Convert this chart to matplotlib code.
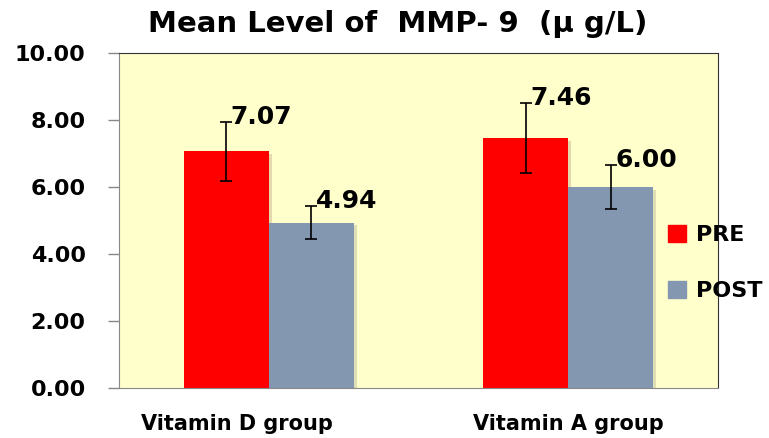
import numpy as np
import matplotlib
import matplotlib.pyplot as plt
import matplotlib.patheffects as pe
from matplotlib.patches import Patch
from matplotlib.transforms import ScaledTranslation

matplotlib.use('Agg')

groups = ['Vitamin D group', 'Vitamin A group']
series = ['PRE', 'POST']
pre = [7.07, 7.46]
post = [4.94, 6.00]
pre_err = [0.88, 1.05]
post_err = [0.50, 0.66]
colors = ['#FF0000', '#8497B0']

plt.rcParams['font.family'] = 'DejaVu Sans'
plt.rcParams['font.weight'] = 'bold'

fig = plt.figure(figsize=(7.69, 4.38), dpi=100)
ax = fig.add_axes([119 / 769, 1 - 388 / 438, 599 / 769, 335 / 438])
ax.set_facecolor('#FFFFCC')

x = np.arange(len(groups))
w = 0.284
shadow = [pe.SimplePatchShadow(offset=(2, -2), alpha=0.15), pe.Normal()]
for vals, errs, off, col in [(pre, pre_err, -w / 2, colors[0]), (post, post_err, w / 2, colors[1])]:
    ax.bar(x + off, vals, w, color=col, path_effects=shadow, zorder=2)
    ax.errorbar(x + off, vals, yerr=errs, fmt='none', ecolor='black',
                elinewidth=1.2, capsize=4.5, capthick=1.2, zorder=3)
    for xi, v, e in zip(x + off, vals, errs):
        ax.text(xi + 0.015, v + e + 0.15, f'{v:.2f}', ha='left', va='center',
                fontsize=18, fontweight='bold', zorder=4)

ax.set_xlim(-0.5, 1.5)
ax.set_ylim(0, 10)
ax.set_yticks(np.arange(0, 10.1, 2))
ax.set_yticklabels([f'{t:.2f}' for t in np.arange(0, 10.1, 2)])
ax.tick_params(axis='y', length=8, width=1, color='#888888', pad=16, labelsize=16)
ax.set_xticks(x)
ax.set_xticklabels(groups)
ax.tick_params(axis='x', length=0, pad=19, labelsize=15)
lbl = ax.get_xticklabels()[0]
lbl.set_transform(lbl.get_transform() + ScaledTranslation(-0.32, 0, fig.dpi_scale_trans))

for s in ['top', 'right']:
    ax.spines[s].set_color('#333333')
for s in ['left', 'bottom']:
    ax.spines[s].set_color('#888888')

fig.text(398 / 769, 1 - 24 / 438, 'Mean Level of  MMP- 9  (\u00b5 g/L)', ha='center', va='center',
         fontsize=21, fontweight='bold')

handles = [Patch(color=c) for c in colors]
fig.legend(handles, series, loc='center left', bbox_to_anchor=(668 / 769, 1 - 263 / 438),
           frameon=False, fontsize=16, handlelength=0.8, handleheight=0.8,
           handletextpad=0.45, labelspacing=1.6, borderpad=0, borderaxespad=0)

fig.savefig('out.png', dpi=100)
